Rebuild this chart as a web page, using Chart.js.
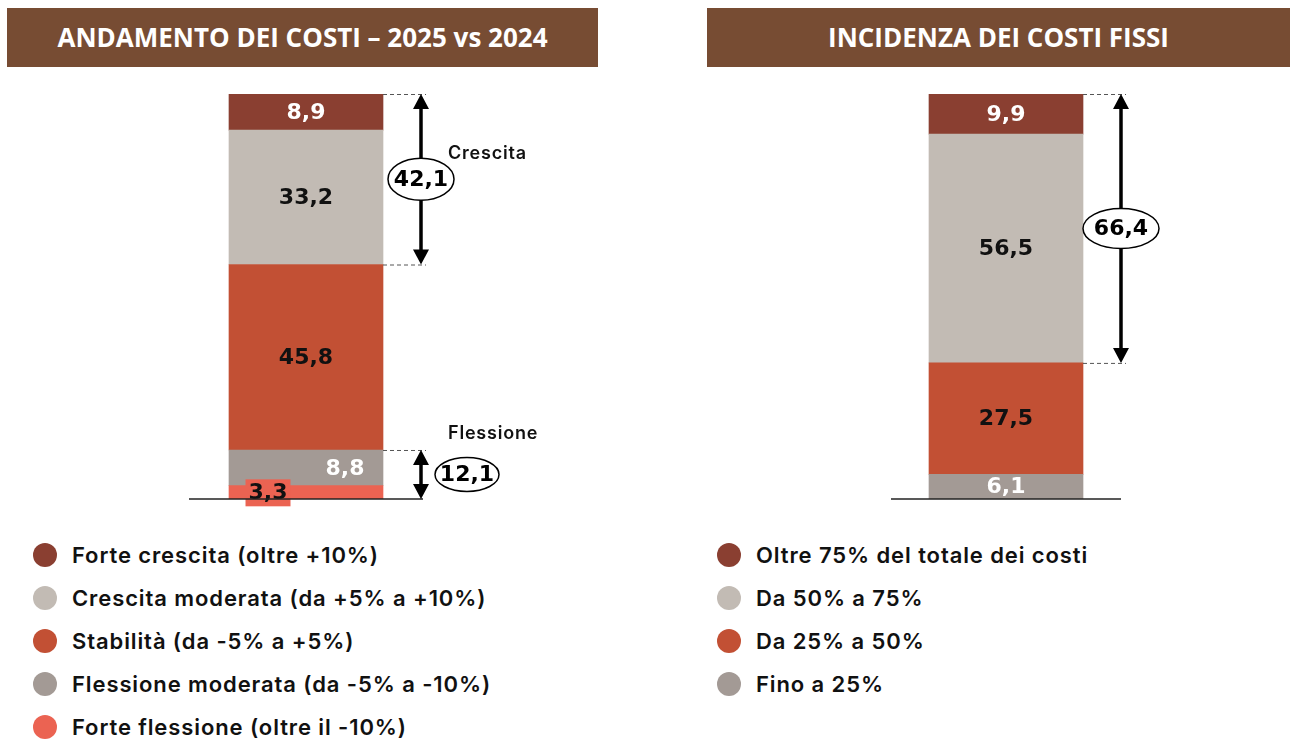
<!DOCTYPE html>
<html lang="it">
<head>
<meta charset="utf-8">
<title>Andamento e incidenza dei costi</title>
<script src="https://cdn.jsdelivr.net/npm/chart.js@4.4.0/dist/chart.umd.min.js"></script>
<style>
    html, body {
        margin: 0;
        padding: 0;
        background: #fff;
        width: 1290px;
        height: 740px;
        overflow: hidden;
        font-family: "Inter", "DejaVu Sans", sans-serif;
    }
    .header {
        position: absolute;
        top: 8px;
        height: 59px;
        background: #774c33;
        color: #fff;
        font-family: "Open Sans", sans-serif;
        font-weight: 700;
        font-size: 26px;
        line-height: 59px;
        text-align: center;
    }
    .panel {
        position: absolute;
        top: 0;
    }
    .legend {
        position: absolute;
        top: 533px;
        list-style: none;
        margin: 0;
        padding: 0;
    }
    .legend li {
        height: 43px;
        display: flex;
        align-items: center;
        font-size: 22px;
        font-weight: 600;
        letter-spacing: 0.9px;
        color: #111;
    }
    .legend .dot {
        width: 24px;
        height: 24px;
        border-radius: 50%;
        margin-right: 15px;
        flex: none;
    }
</style>
</head>
<body>

<div class="header" style="left:7px; width:591px;">ANDAMENTO DEI COSTI – 2025 vs 2024</div>
<div class="header" style="left:707px; width:583px;">INCIDENZA DEI COSTI FISSI</div>

<div class="panel" style="left:0;"><canvas id="chart-costi" width="645" height="525"></canvas></div>
<div class="panel" style="left:645px;"><canvas id="chart-fissi" width="645" height="525"></canvas></div>

<ul class="legend" id="legend-costi" style="left:33px;"></ul>
<ul class="legend" id="legend-fissi" style="left:717px;"></ul>

<script>
// Dati (dall'alto verso il basso della barra)
const costCategories = ['Forte crescita (oltre +10%)', 'Crescita moderata (da +5% a +10%)', 'Stabilità (da -5% a +5%)', 'Flessione moderata (da -5% a -10%)', 'Forte flessione (oltre il -10%)'];
const costValues = [8.9, 33.2, 45.8, 8.8, 3.3];
const costColors = ['#8a3f31', '#c2bbb4', '#c25034', '#a39a95', '#eb6352'];
const costLabelColors = ['#fff', '#111', '#111', '#fff', '#111'];
const costLabelAlign = ['center', 'center', 'center', 'right', 'box'];

const fixedCategories = ['Oltre 75% del totale dei costi', 'Da 50% a 75%', 'Da 25% a 50%', 'Fino a 25%'];
const fixedValues = [9.9, 56.5, 27.5, 6.1];
const fixedColors = ['#8a3f31', '#c2bbb4', '#c25034', '#a39a95'];
const fixedLabelColors = ['#fff', '#111', '#111', '#fff'];
const fixedLabelAlign = ['center', 'center', 'center', 'center'];

// Raggruppamenti (indici delle categorie sommate)
const costGroups = [
    { from: 0, to: 1, caption: 'Crescita' },
    { from: 3, to: 4, caption: 'Flessione' }
];
const fixedGroups = [
    { from: 0, to: 1, caption: '' }
];

const fmt = v => v.toFixed(1).replace('.', ',');

// Etichette dei segmenti
const segmentLabels = {
    id: 'segmentLabels',
    afterDatasetsDraw(chart, args, opts) {
        const ctx = chart.ctx;
        const n = chart.data.datasets.length;
        ctx.save();
        ctx.font = 'bold 22px "DejaVu Sans", sans-serif';
        ctx.textBaseline = 'middle';
        chart.data.datasets.forEach((ds, di) => {
            const idx = n - 1 - di; // indice nella lista dall'alto
            const bar = chart.getDatasetMeta(di).data[0];
            const left = bar.x - bar.width / 2;
            const right = bar.x + bar.width / 2;
            const cy = (bar.y + bar.base) / 2;
            const text = fmt(ds.data[0]);
            const align = opts.align[idx];
            let x = bar.x;
            if (align === 'right') {
                x = right - 38;
            } else if (align === 'box') {
                x = left + 39;
                const w = ctx.measureText(text).width + 6;
                ctx.fillStyle = ds.backgroundColor;
                ctx.fillRect(x - w / 2, cy - 13, w, 27);
            }
            ctx.textAlign = 'center';
            ctx.fillStyle = opts.colors[idx];
            ctx.fillText(text, x, cy + 1);
        });
        ctx.restore();
    }
};

function drawArrowHead(ctx, x, y, dir) {
    ctx.beginPath();
    ctx.moveTo(x, y);
    ctx.lineTo(x - 8, y + dir * 15);
    ctx.lineTo(x + 8, y + dir * 15);
    ctx.closePath();
    ctx.fill();
}

// Frecce, ellissi e linea di base
const brackets = {
    id: 'brackets',
    afterDatasetsDraw(chart, args, opts) {
        const ctx = chart.ctx;
        const area = chart.chartArea;
        const yScale = chart.scales.y;
        const values = opts.values;
        const bar = chart.getDatasetMeta(0).data[0];
        const barRight = bar.x + bar.width / 2;
        const ax = barRight + 38;
        ctx.save();

        // linea di base
        const y0 = yScale.getPixelForValue(0);
        ctx.strokeStyle = '#222';
        ctx.lineWidth = 1.5;
        ctx.beginPath();
        ctx.moveTo(area.left, y0);
        ctx.lineTo(area.right, y0);
        ctx.stroke();

        opts.groups.forEach(g => {
            // cumulati dal basso
            let below = 0;
            for (let i = g.to + 1; i < values.length; i++) below += values[i];
            let sum = 0;
            for (let i = g.from; i <= g.to; i++) sum += values[i];
            const yTop = yScale.getPixelForValue(below + sum);
            const yBot = yScale.getPixelForValue(below);

            // tratteggi
            ctx.strokeStyle = '#555';
            ctx.lineWidth = 1;
            ctx.setLineDash([4, 3]);
            ctx.beginPath();
            ctx.moveTo(barRight, yTop + 0.5);
            ctx.lineTo(ax + 5, yTop + 0.5);
            if (below > 0) {
                ctx.moveTo(barRight, yBot + 0.5);
                ctx.lineTo(ax + 5, yBot + 0.5);
            }
            ctx.stroke();
            ctx.setLineDash([]);

            // freccia doppia
            ctx.strokeStyle = '#000';
            ctx.fillStyle = '#000';
            ctx.lineWidth = 3.5;
            ctx.beginPath();
            ctx.moveTo(ax, yTop + 10);
            ctx.lineTo(ax, yBot - 10);
            ctx.stroke();
            drawArrowHead(ctx, ax, yTop, 1);
            drawArrowHead(ctx, ax, yBot, -1);

            // ellisse con totale
            const cy = (yTop + yBot) / 2;
            const small = (yBot - yTop) < 80;
            const ex = small ? ax + 46 : ax;
            const rx = small ? 32 : (opts.wide ? 38 : 33);
            const ry = small ? 17 : (opts.wide ? 20 : 21);
            ctx.fillStyle = '#fff';
            ctx.strokeStyle = '#000';
            ctx.lineWidth = 1.5;
            ctx.beginPath();
            ctx.ellipse(ex, cy, rx, ry, 0, 0, Math.PI * 2);
            ctx.fill();
            ctx.stroke();
            ctx.fillStyle = '#000';
            ctx.font = 'bold 22px "DejaVu Sans", sans-serif';
            ctx.textAlign = 'center';
            ctx.textBaseline = 'middle';
            ctx.fillText(fmt(sum), ex, cy + 1);

            // didascalia
            if (g.caption) {
                ctx.font = '600 18px "Inter", sans-serif';
                ctx.letterSpacing = '0.8px';
                ctx.textAlign = 'left';
                ctx.fillStyle = '#111';
                const capY = small ? yTop - 16 : cy - 26;
                ctx.fillText(g.caption, ax + 27, capY);
                ctx.letterSpacing = '0px';
            }
        });
        ctx.restore();
    }
};

function makeChart(id, categories, values, colors, labelColors, labelAlign, groups, padding, wide) {
    // Chart.js impila dal primo dataset in basso: invertiamo l'ordine
    const datasets = categories.map((c, i) => ({
        label: c,
        data: [values[i]],
        backgroundColor: colors[i],
        borderWidth: 0,
        barThickness: 154
    })).reverse();

    return new Chart(document.getElementById(id), {
        type: 'bar',
        data: { labels: [''], datasets: datasets },
        options: {
            responsive: false,
            animation: false,
            layout: { padding: padding },
            scales: {
                x: { stacked: true, display: false },
                y: { stacked: true, display: false, min: 0, max: 100 }
            },
            plugins: {
                legend: { display: false },
                tooltip: { enabled: false },
                segmentLabels: { colors: labelColors, align: labelAlign },
                brackets: { groups: groups, values: values, wide: wide }
            }
        },
        plugins: [segmentLabels, brackets]
    });
}

function buildLegend(id, categories, colors) {
    const ul = document.getElementById(id);
    categories.forEach((c, i) => {
        const li = document.createElement('li');
        li.innerHTML = '<span class="dot" style="background:' + colors[i] + '"></span>' + c;
        ul.appendChild(li);
    });
}

makeChart('chart-costi', costCategories, costValues, costColors, costLabelColors, costLabelAlign, costGroups,
    { left: 189, right: 222, top: 94, bottom: 26 }, false);
makeChart('chart-fissi', fixedCategories, fixedValues, fixedColors, fixedLabelColors, fixedLabelAlign, fixedGroups,
    { left: 246, right: 169, top: 94, bottom: 26 }, true);

buildLegend('legend-costi', costCategories, costColors);
buildLegend('legend-fissi', fixedCategories, fixedColors);
</script>
</body>
</html>
